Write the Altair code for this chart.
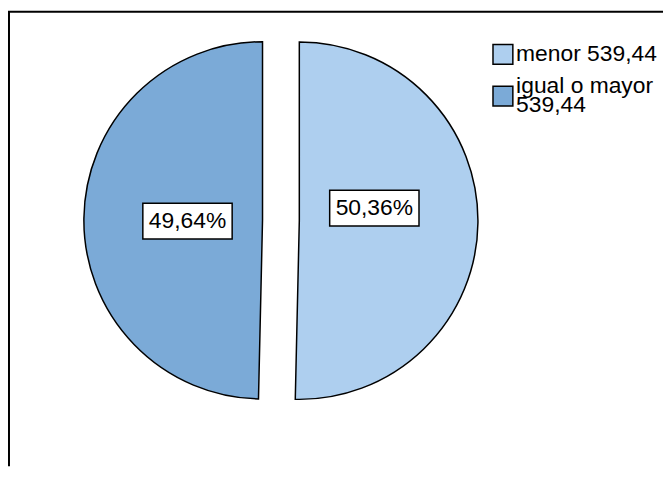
import altair as alt
import pandas as pd

categories = ["menor 539,44", "igual o mayor\n539,44"]
percent = [50.36, 49.64]
pct_labels = ["50,36%", "49,64%"]
order = [0, 1]
colors = ["#AECFEF", "#7BAAD7"]
title_text = "Gráfico 3.6 Canasta Familiar Básica"

df = pd.DataFrame({"cat": categories, "pct": percent, "lab": pct_labels, "order": order})

W, H = 660, 460
R = 180.0
cx_px, cy_px = 275.0, 212.4
xs = alt.Scale(domain=[-cx_px / R, (W - cx_px) / R], nice=False, zero=False)
ys = alt.Scale(domain=[-(H - cy_px) / R, cy_px / R], nice=False, zero=False)
color_scale = alt.Scale(domain=categories, range=colors)

base = (
    alt.Chart(df)
    .transform_window(cum="sum(pct)", sort=[alt.SortField("order")], frame=[None, 0])
    .transform_calculate(start="datum.cum - datum.pct",
                         ang="(datum.cum - datum.pct / 2) / 100 * 2 * PI")
    .transform_calculate(ex="0.103 * sin(datum.ang)", ey="0.103 * cos(datum.ang)")
    .transform_calculate(lx="datum.ex + 0.42 * sin(datum.ang)",
                         ly="datum.ey + 0.42 * cos(datum.ang)")
)

arcs = base.mark_arc(radius=R, stroke="black", strokeWidth=1.5, opacity=1).encode(
    x=alt.X("ex:Q", scale=xs, axis=None),
    y=alt.Y("ey:Q", scale=ys, axis=None),
    theta=alt.Theta("start:Q", scale=alt.Scale(domain=[0, 100]), stack=False),
    theta2="cum:Q",
    color=alt.Color("cat:N", scale=color_scale, legend=None),
)

box_shape = "M-1,-0.4L1,-0.4L1,0.4L-1,0.4Z"
enc = dict(x=alt.X("lx:Q", scale=xs, axis=None), y=alt.Y("ly:Q", scale=ys, axis=None))

layers = [arcs]
for o, yoff in [(0, -13.5), (1, 1.7)]:
    sub = base.transform_filter(alt.datum.order == o)
    layers.append(sub.mark_point(shape=box_shape, size=8100, filled=True, fill="white",
                                 stroke="black", strokeWidth=1.5, opacity=1,
                                 yOffset=yoff).encode(**enc))
    layers.append(sub.mark_text(font="Liberation Sans", fontSize=23, color="black",
                                baseline="middle", align="center", yOffset=yoff)
                  .encode(text="lab:N", **enc))

# legend (drawn as marks so the two-line label can be centred on its swatch)
leg_y = alt.Y("cat:N", scale=alt.Scale(type="point", domain=categories, range=[45, 87],
                                      padding=0), axis=None)
leg_base = alt.Chart(df)
layers.append(
    leg_base.mark_point(shape="square", size=400, filled=True, stroke="black",
                        strokeWidth=1.5, opacity=1)
    .encode(x=alt.value(498.7), y=leg_y,
            color=alt.Color("cat:N", scale=color_scale, legend=None))
)
for o, dy in [(0, 0), (1, -10)]:
    layers.append(
        leg_base.transform_filter(alt.datum.order == o)
        .mark_text(font="Liberation Sans", fontSize=23, color="black", align="left",
                   baseline="middle", lineBreak="\n", lineHeight=19.5, dy=dy)
        .encode(x=alt.value(512), y=leg_y, text="cat:N")
    )

frame_df = pd.DataFrame({"k": [0]})
left_rule = alt.Chart(frame_df).mark_rule(color="black", strokeWidth=2).encode(
    x=alt.value(1), y=alt.value(2), y2=alt.value(H))
top_rule = alt.Chart(frame_df).mark_rule(color="black", strokeWidth=2).encode(
    x=alt.value(0), x2=alt.value(W), y=alt.value(2))
layers += [left_rule, top_rule]

chart = (
    alt.layer(*layers)
    .resolve_scale(y="independent")
    .properties(
        width=W, height=H,
        autosize=alt.AutoSizeParams(type="none"),
        padding=0,
        title=alt.TitleParams(title_text, font="Liberation Sans", fontSize=24,
                              fontWeight="bold", color="black", offset=4),
    )
    .configure_view(strokeWidth=0)
)

chart.save("out.html", embed_options={"renderer": "svg", "actions": False})
